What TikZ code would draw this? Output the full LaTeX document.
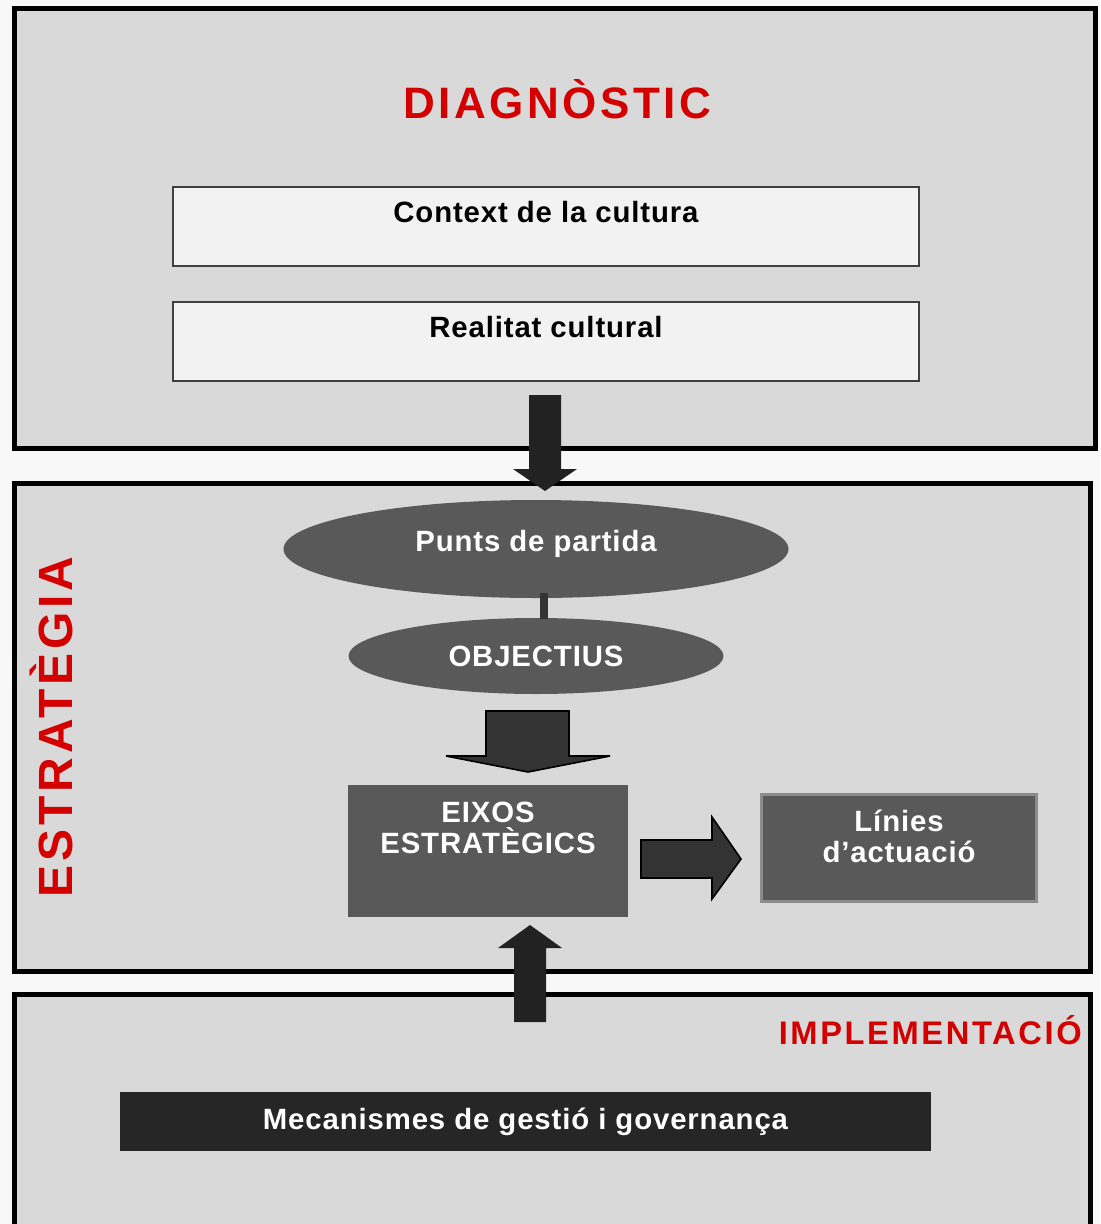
\documentclass[tikz,border=0pt]{standalone}
\usepackage{fontspec}
\setmainfont{Liberation Sans}
\newfontfamily\spacedfont{Liberation Sans}[LetterSpace=3]
\newfontfamily\titlefont{Liberation Sans}[LetterSpace=8]
\usetikzlibrary{shapes.geometric}
\definecolor{pagebg}{HTML}{F8F8F8}
\definecolor{panelgray}{HTML}{D9D9D9}
\definecolor{boxwhite}{HTML}{F2F2F2}
\definecolor{boxline}{HTML}{404040}
\definecolor{midgray}{HTML}{595959}
\definecolor{arrowdark}{HTML}{222222}
\definecolor{arrowfill}{HTML}{333333}
\definecolor{titlered}{HTML}{D40000}
\definecolor{basebox}{HTML}{262626}
\definecolor{framegray}{HTML}{8C8C8C}
\tikzset{
	panel/.style={draw=black,line width=3.75pt,fill=panelgray},
	title/.style={text=titlered,inner sep=0pt,font=\titlefont\bfseries\fontsize{#1}{#1}\selectfont},
	boxlabel/.style={font=\spacedfont\bfseries\fontsize{22}{23.25}\selectfont,inner sep=0pt,align=center},
	lightbox/.style={draw=boxline,line width=1.5pt,fill=boxwhite,minimum width=559.5pt,minimum height=59.25pt,inner sep=0pt},
	oval/.style 2 args={ellipse,fill=midgray,inner sep=0pt,minimum width=#1,minimum height=#2},
	darkbox/.style={fill=midgray,inner sep=0pt},
	link/.style={draw=arrowfill,line width=6pt},
	solidarrow/.style={fill=arrowdark},
	blockarrow/.style={fill=arrowfill,draw=black,line width=1.2pt,line join=miter}
}
\begin{document}
\begin{tikzpicture}[x=0.75pt,y=-0.75pt]
	\useasboundingbox (0,0) rectangle (1100,1224);
	\clip (0,0) rectangle (1100,1224);
	\fill[pagebg] (0,0) rectangle (1100,1224);

	\draw[panel] (14.5,8.5) rectangle (1095.5,448.5);
	\draw[panel] (14.5,483) rectangle (1090.5,971);
	\draw[panel] (14.5,994.5) rectangle (1090,1240);

	\node[title=33,anchor=base] (diagnostic) at (557,118) {DIAGNÒSTIC};
	\node[title=36,rotate=90,anchor=base] (estrategia) at (72,727) {ESTRATÈGIA};
	\node[title=24.5,anchor=base east] (implementacio) at (1082,1044) {IMPLEMENTACIÓ};

	\node[lightbox,label={[boxlabel,anchor=base,yshift=-27pt]north:Context de la cultura}] (context) at (546,226.5) {};
	\node[lightbox,label={[boxlabel,anchor=base,yshift=-27pt]north:Realitat cultural}] (realitat) at (546,341.5) {};

	\fill[solidarrow] (529,395) -- (561,395) -- (561,469) -- (577,469) -- (545,491) -- (513,469) -- (529,469) -- cycle;
	\fill[solidarrow] (514,1022) -- (546,1022) -- (546,948) -- (562,948) -- (530,925) -- (498,948) -- (514,948) -- cycle;

	\node[oval={378.75pt}{73.5pt},label={[boxlabel,text=white,anchor=base,yshift=4pt]center:Punts de partida}] (punts) at (536,549) {};
	\node[oval={281.25pt}{57pt},label={[boxlabel,text=white,anchor=base,yshift=0pt]center:OBJECTIUS}] (objectius) at (536,656) {};
	\draw[link] ([xshift=6pt,yshift=3.75pt]punts.south) -- ([xshift=6pt,yshift=-1pt]objectius.north);

	\filldraw[blockarrow] (486,711) -- (569,711) -- (569,756) -- (610,756) -- (528,772) -- (446,756) -- (486,756) -- cycle;

	\node[darkbox,minimum width=210pt,minimum height=99pt,label={[boxlabel,text=white,anchor=north,yshift=-12.75pt]north:EIXOS\\ESTRATÈGICS}] (eixos) at (488,851) {};
	\node[darkbox,draw=framegray,line width=2.25pt,minimum width=206.25pt,minimum height=80.25pt,label={[boxlabel,text=white,anchor=north,yshift=-12.4pt]north:Línies\\d’actuació}] (linies) at (899,848) {};

	\filldraw[blockarrow] (641,840) -- (712,840) -- (712,817) -- (741,859) -- (712,899) -- (712,878) -- (641,878) -- cycle;

	\node[darkbox,fill=basebox,minimum width=608.25pt,minimum height=44.25pt,boxlabel,text=white] (gestio) at (525.5,1121.5) {Mecanismes de gestió i governança};
\end{tikzpicture}
\end{document}
